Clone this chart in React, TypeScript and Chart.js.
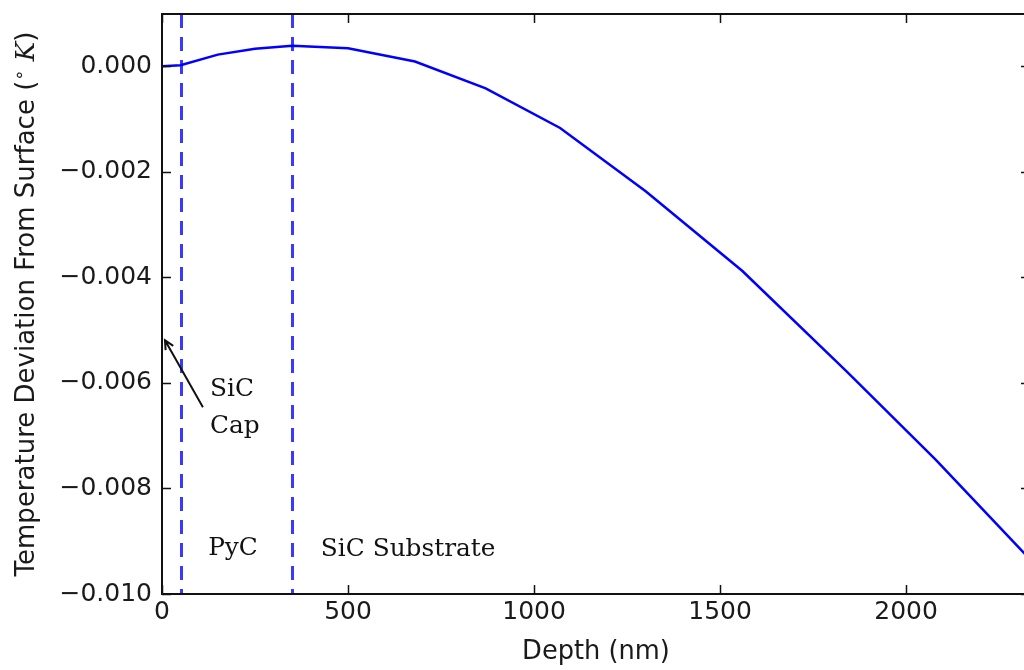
import React, { useEffect, useRef } from "react";
import { Chart, registerables } from "chart.js";

Chart.register(...registerables);

// ---- data ----
const depthNm: number[] = [0, 50, 150, 250, 350, 500, 680, 870, 1070, 1300, 1560, 1840, 2080, 2330];
const tempDeviation: number[] = [0, 0.00002, 0.00022, 0.00033, 0.00039, 0.00034, 0.00009, -0.00042, -0.00117, -0.00237, -0.00388, -0.00578, -0.00746, -0.00932];
const xTicks: number[] = [0, 500, 1000, 1500, 2000];
const yTicks: number[] = [0, -0.002, -0.004, -0.006, -0.008, -0.01];
const layerBoundaries: number[] = [50, 350];
const xRange: number[] = [0, 2333];
const yRange: number[] = [-0.01, 0.00099];

const textLabels: { text: string; x: number; y: number }[] = [
  { text: "SiC", x: 129, y: -0.00625 },
  { text: "Cap", x: 129, y: -0.00695 },
  { text: "PyC", x: 124, y: -0.00926 },
  { text: "SiC Substrate", x: 427, y: -0.00928 },
];
const arrowFrom: number[] = [110, -0.00646];
const arrowTo: number[] = [8, -0.00519];

const SANS = "'DejaVu Sans', sans-serif";
const SERIF = "'DejaVu Serif', serif";

function fmt(v: number): string {
  const s = Math.abs(v).toFixed(3);
  return v < -1e-12 ? "\u2212" + s : s;
}

const decorPlugin = {
  id: "decor",
  beforeDatasetsDraw(chart: any) {
    const { ctx, chartArea: a, scales } = chart;
    const xs = scales.x;
    ctx.save();
    ctx.strokeStyle = "#3a3aff";
    ctx.lineWidth = 3;
    ctx.setLineDash([14, 9]);
    for (const b of layerBoundaries) {
      const px = Math.round(xs.getPixelForValue(b)) + 0.5;
      ctx.beginPath();
      ctx.moveTo(px, a.top);
      ctx.lineTo(px, a.bottom);
      ctx.stroke();
    }
    ctx.restore();
  },
  afterDraw(chart: any) {
    const { ctx, chartArea: a, scales } = chart;
    const xs = scales.x;
    const ys = scales.y;
    ctx.save();
    // spines
    ctx.strokeStyle = "#111";
    ctx.lineWidth = 2;
    ctx.setLineDash([]);
    ctx.strokeRect(a.left, a.top, a.right - a.left, a.bottom - a.top);
    // ticks (inward)
    ctx.lineWidth = 1.5;
    const tl = 9;
    for (const t of xTicks) {
      const px = Math.round(xs.getPixelForValue(t)) + 0.5;
      ctx.beginPath();
      ctx.moveTo(px, a.bottom);
      ctx.lineTo(px, a.bottom - tl);
      ctx.moveTo(px, a.top);
      ctx.lineTo(px, a.top + tl);
      ctx.stroke();
    }
    for (const t of yTicks) {
      const py = Math.round(ys.getPixelForValue(t)) + 0.5;
      ctx.beginPath();
      ctx.moveTo(a.left, py);
      ctx.lineTo(a.left + tl, py);
      ctx.moveTo(a.right, py);
      ctx.lineTo(a.right - tl, py);
      ctx.stroke();
    }
    // tick labels
    ctx.fillStyle = "#1a1a1a";
    ctx.font = `25px ${SANS}`;
    ctx.textAlign = "center";
    ctx.textBaseline = "middle";
    for (const t of xTicks) {
      ctx.fillText(String(t), xs.getPixelForValue(t), a.bottom + 18);
    }
    ctx.textAlign = "right";
    for (const t of yTicks) {
      ctx.fillText(fmt(t), a.left - 10, ys.getPixelForValue(t));
    }
    // x title
    ctx.font = `25.7px ${SANS}`;
    ctx.textAlign = "center";
    ctx.fillText("Depth (nm)", (a.left + 1030) / 2, 652);
    // y title (mixed fonts)
    const segs = [
      { t: "Temperature Deviation From Surface (", f: `26px ${SANS}`, dy: 0 },
      { t: "\u2218", f: `18px ${SANS}`, dy: -9 },
      { t: " K", f: `italic 26px ${SERIF}`, dy: 0 },
      { t: ")", f: `26px ${SANS}`, dy: 0 },
    ];
    let total = 0;
    const widths: number[] = [];
    for (const s of segs) {
      ctx.font = s.f;
      const w = ctx.measureText(s.t).width;
      widths.push(w);
      total += w;
    }
    ctx.save();
    ctx.translate(34, (a.top + a.bottom) / 2);
    ctx.rotate(-Math.PI / 2);
    ctx.textAlign = "left";
    ctx.textBaseline = "alphabetic";
    let cx = -total / 2;
    segs.forEach((s, i) => {
      ctx.font = s.f;
      ctx.fillText(s.t, cx, s.dy);
      cx += widths[i];
    });
    ctx.restore();
    // annotations
    ctx.font = `24.8px ${SERIF}`;
    ctx.textAlign = "left";
    ctx.textBaseline = "alphabetic";
    ctx.fillStyle = "#111";
    for (const l of textLabels) {
      ctx.fillText(l.text, xs.getPixelForValue(l.x), ys.getPixelForValue(l.y));
    }
    const x0 = xs.getPixelForValue(arrowFrom[0]);
    const y0 = ys.getPixelForValue(arrowFrom[1]);
    const x1 = xs.getPixelForValue(arrowTo[0]);
    const y1 = ys.getPixelForValue(arrowTo[1]);
    ctx.strokeStyle = "#111";
    ctx.lineWidth = 2;
    ctx.beginPath();
    ctx.moveTo(x0, y0);
    ctx.lineTo(x1, y1);
    const ang = Math.atan2(y0 - y1, x0 - x1);
    const hl = 10;
    const ha = 0.45;
    ctx.moveTo(x1 + hl * Math.cos(ang - ha), y1 + hl * Math.sin(ang - ha));
    ctx.lineTo(x1, y1);
    ctx.lineTo(x1 + hl * Math.cos(ang + ha), y1 + hl * Math.sin(ang + ha));
    ctx.stroke();
    ctx.restore();
  },
};

export default function App() {
  const ref = useRef<HTMLCanvasElement | null>(null);
  useEffect(() => {
    if (!ref.current) return;
    const chart = new Chart(ref.current, {
      type: "line",
      data: {
        datasets: [
          {
            data: depthNm.map((x, i) => ({ x, y: tempDeviation[i] })),
            borderColor: "#0000ff",
            borderWidth: 2.5,
            pointRadius: 0,
            tension: 0,
            fill: false,
          },
        ],
      },
      options: {
        animation: false,
        responsive: false,
        devicePixelRatio: 1,
        layout: { padding: { left: 162, right: 10, top: 14, bottom: 76 } },
        plugins: { legend: { display: false }, tooltip: { enabled: false } },
        scales: {
          x: { type: "linear", display: false, min: xRange[0], max: xRange[1] },
          y: { type: "linear", display: false, min: yRange[0], max: yRange[1] },
        },
      },
      plugins: [decorPlugin],
    });
    return () => chart.destroy();
  }, []);
  return (
    <div style={{ position: "fixed", left: 0, top: 0, width: 1024, height: 670, overflow: "hidden", background: "#fff" }}>
      <canvas ref={ref} width={1040} height={670} style={{ display: "block" }} />
    </div>
  );
}
